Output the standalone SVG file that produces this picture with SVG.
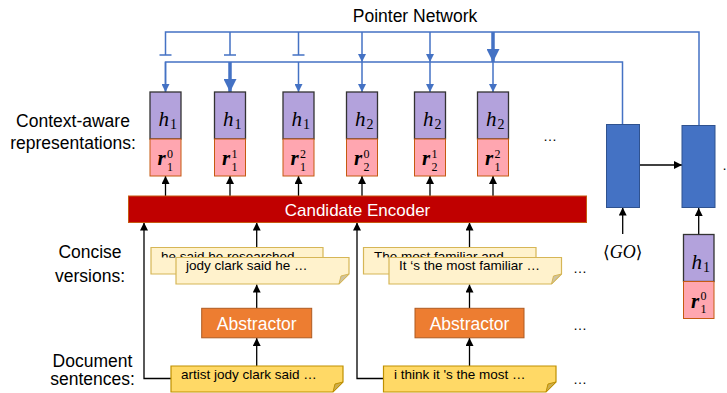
<svg xmlns="http://www.w3.org/2000/svg" width="727" height="393" viewBox="0 0 727 393">
<defs>
<marker id="ab" viewBox="0 0 10 10" refX="10" refY="5" markerWidth="8" markerHeight="8" markerUnits="userSpaceOnUse" orient="auto"><path d="M0,0 L10,5 L0,10 z" fill="#4472C4"/></marker>
<marker id="abig" viewBox="0 0 10 10" refX="10" refY="5" markerWidth="13" markerHeight="13" markerUnits="userSpaceOnUse" orient="auto"><path d="M0,0 L10,5 L0,10 z" fill="#4472C4"/></marker>
<marker id="ak" viewBox="0 0 10 10" refX="10" refY="5" markerWidth="8" markerHeight="8" markerUnits="userSpaceOnUse" orient="auto"><path d="M0,0 L10,5 L0,10 z" fill="#000"/></marker>
<clipPath id="cb1"><rect x="151" y="247" width="173" height="10.5"/></clipPath>
<clipPath id="cb2"><rect x="363" y="247" width="174" height="10.5"/></clipPath>
<style>
.lbl{font-family:"Liberation Sans",Arial,sans-serif;font-size:17.5px;fill:#000;text-anchor:middle}
.note{font-family:"Liberation Sans",Arial,sans-serif;font-size:13.5px;fill:#000}
.wt{font-family:"Liberation Sans",Arial,sans-serif;fill:#fff;text-anchor:middle}
.hb{fill:#B3A2DC;stroke:#333;stroke-width:1.3}
.rb{fill:#FFA6B0;stroke:#C55A11;stroke-width:1}
.mi{font-family:"Liberation Serif","DejaVu Serif",serif;font-style:italic;fill:#000}
.mb{font-family:"Liberation Serif","DejaVu Serif",serif;font-style:italic;font-weight:bold;fill:#000}
.mn{font-family:"Liberation Serif","DejaVu Serif",serif;fill:#000}
.bl{fill:none;stroke:#4472C4;stroke-width:1.5}
.blt{fill:none;stroke:#4472C4;stroke-width:3.5}
.bk{fill:none;stroke:#000;stroke-width:1.3}
.n1{fill:#FFF2CC;stroke:#D6B656;stroke-width:1.2}
.n2{fill:#FFD966;stroke:#BF9000;stroke-width:1.2}
.f1{fill:#CFC3A0;stroke:#D6B656;stroke-width:1}
.f2{fill:#CCAD4E;stroke:#BF9000;stroke-width:1}
.dots{font-family:"Liberation Sans",Arial,sans-serif;font-size:14px;fill:#000}
</style>
</defs>
<rect width="727" height="393" fill="#fff"/>

<text x="415" y="22" class="lbl" font-size="18">Pointer Network</text>
<text x="73" y="127" class="lbl">Context-aware</text>
<text x="73" y="149" class="lbl">representations:</text>
<text x="90" y="258" class="lbl">Concise</text>
<text x="90" y="282" class="lbl">versions:</text>
<text x="92.5" y="367" class="lbl">Document</text>
<text x="92.5" y="385" class="lbl">sentences:</text>

<g id="connectors">
<path class="bl" d="M165.5,55 V32 H699 V125"/>
<path class="bl" d="M159.5,55 H171.5 M230,32 V55 M224,55 H236 M298.5,32 V55 M292.5,55 H304.5"/>
<path class="bl" d="M362,32 V62" marker-end="url(#ab)"/>
<path class="bl" d="M430,32 V62" marker-end="url(#ab)"/>
<path class="blt" d="M493,32 V62" marker-end="url(#abig)"/>
<path class="bl" d="M165.5,92 V62 H622.5 V124"/>
<path class="bl" d="M165.5,62 V92" marker-end="url(#ab)"/>
<path class="blt" d="M230,62 V92" marker-end="url(#abig)"/>
<path class="bl" d="M298.5,62 V92" marker-end="url(#ab)"/>
<path class="bl" d="M362,62 V92" marker-end="url(#ab)"/>
<path class="bl" d="M430,62 V92" marker-end="url(#ab)"/>
<path class="bl" d="M493,62 V92" marker-end="url(#ab)"/>
<path class="bk" d="M165.5,196 V176" marker-end="url(#ak)"/>
<path class="bk" d="M230,196 V176" marker-end="url(#ak)"/>
<path class="bk" d="M298.5,196 V176" marker-end="url(#ak)"/>
<path class="bk" d="M362,196 V176" marker-end="url(#ak)"/>
<path class="bk" d="M430,196 V176" marker-end="url(#ak)"/>
<path class="bk" d="M493,196 V176" marker-end="url(#ak)"/>
<path class="bk" d="M171,378.5 H144 V222.5" marker-end="url(#ak)"/>
<path class="bk" d="M383,378.5 H357 V222.5" marker-end="url(#ak)"/>
<path class="bk" d="M256.7,247 V222.5" marker-end="url(#ak)"/>
<path class="bk" d="M469.5,247 V222.5" marker-end="url(#ak)"/>
<path class="bk" d="M256.7,308 V284.5" marker-end="url(#ak)"/>
<path class="bk" d="M469.5,308 V284.5" marker-end="url(#ak)"/>
<path class="bk" d="M256.7,366 V338" marker-end="url(#ak)"/>
<path class="bk" d="M469.5,366 V338" marker-end="url(#ak)"/>
<path class="bk" d="M640,165 H682" marker-end="url(#ak)"/>
<path class="bk" d="M622.7,234 V207.5" marker-end="url(#ak)"/>
<path class="bk" d="M698.7,234 V208" marker-end="url(#ak)"/>
</g>

<g id="col1"><rect class="hb" x="150" y="92" width="31" height="47"/><rect class="rb" x="150" y="139" width="31" height="37"/>
<text class="mi" x="158.5" y="126" font-size="21">h</text><text class="mn" x="170" y="129" font-size="14">1</text>
<text class="mb" x="157.5" y="165" font-size="21">r</text><text class="mn" x="167" y="157.5" font-size="12">0</text><text class="mn" x="167" y="170.5" font-size="12">1</text></g>
<g id="col2"><rect class="hb" x="214.5" y="92" width="31" height="47"/><rect class="rb" x="214.5" y="139" width="31" height="37"/>
<text class="mi" x="223" y="126" font-size="21">h</text><text class="mn" x="234.5" y="129" font-size="14">1</text>
<text class="mb" x="222" y="165" font-size="21">r</text><text class="mn" x="231.5" y="157.5" font-size="12">1</text><text class="mn" x="231.5" y="170.5" font-size="12">1</text></g>
<g id="col3"><rect class="hb" x="283" y="92" width="31" height="47"/><rect class="rb" x="283" y="139" width="31" height="37"/>
<text class="mi" x="291.5" y="126" font-size="21">h</text><text class="mn" x="303" y="129" font-size="14">1</text>
<text class="mb" x="290.5" y="165" font-size="21">r</text><text class="mn" x="300" y="157.5" font-size="12">2</text><text class="mn" x="300" y="170.5" font-size="12">1</text></g>
<g id="col4"><rect class="hb" x="346.5" y="92" width="31" height="47"/><rect class="rb" x="346.5" y="139" width="31" height="37"/>
<text class="mi" x="355" y="126" font-size="21">h</text><text class="mn" x="366.5" y="129" font-size="14">2</text>
<text class="mb" x="354" y="165" font-size="21">r</text><text class="mn" x="363.5" y="157.5" font-size="12">0</text><text class="mn" x="363.5" y="170.5" font-size="12">2</text></g>
<g id="col5"><rect class="hb" x="414.5" y="92" width="31" height="47"/><rect class="rb" x="414.5" y="139" width="31" height="37"/>
<text class="mi" x="423" y="126" font-size="21">h</text><text class="mn" x="434.5" y="129" font-size="14">2</text>
<text class="mb" x="422" y="165" font-size="21">r</text><text class="mn" x="431.5" y="157.5" font-size="12">1</text><text class="mn" x="431.5" y="170.5" font-size="12">2</text></g>
<g id="col6"><rect class="hb" x="477.5" y="92" width="31" height="47"/><rect class="rb" x="477.5" y="139" width="31" height="37"/>
<text class="mi" x="486" y="126" font-size="21">h</text><text class="mn" x="497.5" y="129" font-size="14">2</text>
<text class="mb" x="485" y="165" font-size="21">r</text><text class="mn" x="494.5" y="157.5" font-size="12">2</text><text class="mn" x="494.5" y="170.5" font-size="12">1</text></g>
<text class="dots" x="543" y="141">…</text>

<g id="encoder"><rect x="128.5" y="196" width="458" height="26.5" fill="#C00000" stroke="#C55A11" stroke-width="1"/>
<text class="wt" x="357.5" y="216" font-size="17">Candidate Encoder</text></g>

<g id="concise1">
<path class="n1" d="M151,247.5 H323 V274 H151 Z"/>
<text class="note" x="161" y="261" clip-path="url(#cb1)">he said he researched …</text>
<path class="n1" d="M176,257.5 H349 V274 L339,284 H176 Z"/>
<path class="f1" d="M339,284 L341,276 L349,274 Z"/>
<text class="note" x="186" y="270">jody clark said he …</text>
</g>
<g id="concise2">
<path class="n1" d="M363.5,247.5 H536 V274 H363.5 Z"/>
<text class="note" x="374" y="261" clip-path="url(#cb2)">The most familiar and …</text>
<path class="n1" d="M389,257.5 H561.5 V274 L551.5,284 H389 Z"/>
<path class="f1" d="M551.5,284 L553.5,276 L561.5,274 Z"/>
<text class="note" x="399" y="270">It ‘s the most familiar …</text>
</g>
<text class="dots" x="573" y="273">…</text>

<g id="abstractor1"><rect x="201.7" y="308.3" width="110" height="29.5" fill="#ED7D31" stroke="#AE5A21" stroke-width="1"/>
<text class="wt" x="256.7" y="330" font-size="17.5">Abstractor</text></g>
<g id="abstractor2"><rect x="415" y="308.3" width="109" height="29.5" fill="#ED7D31" stroke="#AE5A21" stroke-width="1"/>
<text class="wt" x="469.5" y="330" font-size="17.5">Abstractor</text></g>
<text class="dots" x="573" y="330">…</text>

<g id="doc1">
<path class="n2" d="M171,366 H343 V382 L333,392 H171 Z"/>
<path class="f2" d="M333,392 L335,384 L343,382 Z"/>
<text class="note" x="181" y="379">artist jody clark said …</text>
</g>
<g id="doc2">
<path class="n2" d="M383.5,366 H556 V382 L546,392 H383.5 Z"/>
<path class="f2" d="M546,392 L548,384 L556,382 Z"/>
<text class="note" x="394" y="379">i think it 's the most …</text>
</g>
<text class="dots" x="573" y="384">…</text>

<g id="dec1"><rect x="606.5" y="124.5" width="33" height="83" fill="#4472C4" stroke="#2F528F" stroke-width="1"/></g>
<g id="dec2"><rect x="682" y="125.5" width="33" height="82" fill="#4472C4" stroke="#2F528F" stroke-width="1"/></g>
<text class="dots" x="722" y="170">…</text>
<g id="go"><text x="622.7" y="258" font-size="18" text-anchor="middle" fill="#000" font-family="'DejaVu Serif',serif"><tspan font-size="17">⟨</tspan><tspan class="mi" font-family="'Liberation Serif',serif">GO</tspan><tspan font-size="17">⟩</tspan></text></g>
<g id="input"><rect class="hb" x="683.5" y="234.5" width="30.5" height="47"/><rect class="rb" x="683.5" y="281.5" width="30.5" height="37"/>
<text class="mi" x="691.5" y="268.5" font-size="21">h</text><text class="mn" x="703" y="271.5" font-size="14">1</text>
<text class="mb" x="691" y="307.5" font-size="21">r</text><text class="mn" x="700.5" y="300" font-size="12">0</text><text class="mn" x="700.5" y="313" font-size="12">1</text></g>
</svg>
